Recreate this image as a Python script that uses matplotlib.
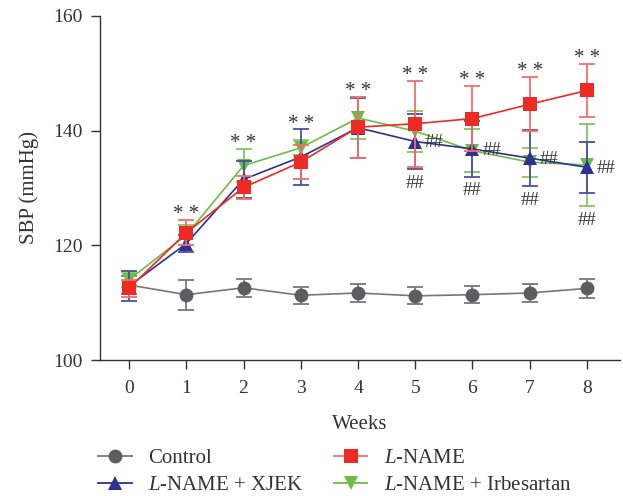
import numpy as np
import matplotlib
matplotlib.use("Agg")
import matplotlib.pyplot as plt
from matplotlib.lines import Line2D

# SBP readings (mmHg), mean and error, weeks 0-8
weeks = [0, 1, 2, 3, 4, 5, 6, 7, 8]

control_mean = [113.1, 111.4, 112.6, 111.3, 111.7, 111.2, 111.4, 111.7, 112.5]
control_err = [1.5, 2.6, 1.6, 1.5, 1.6, 1.5, 1.5, 1.6, 1.6]

lname_mean = [112.5, 122.2, 130.1, 134.5, 140.6, 141.2, 142.1, 144.6, 147.0]
lname_err = [1.5, 2.2, 2.0, 3.0, 5.3, 7.5, 5.7, 4.7, 4.6]

xjek_mean = [112.9, 120.3, 131.5, 135.4, 140.5, 138.1, 136.8, 135.2, 133.6]
xjek_err = [2.6, 1.5, 3.2, 4.8, 5.2, 4.8, 4.8, 4.9, 4.5]

irb_mean = [114.0, 121.8, 133.9, 137.0, 142.2, 139.9, 136.5, 134.5, 134.0]
irb_err = [1.3, 1.8, 2.9, 1.3, 3.6, 3.6, 3.8, 2.5, 7.2]

star_weeks = [1, 2, 3, 4, 5, 6, 7, 8]
hash_weeks = [5, 6, 7, 8]

plt.rcParams["font.family"] = ["Liberation Serif", "DejaVu Serif"]
plt.rcParams["mathtext.fontset"] = "custom"
plt.rcParams["mathtext.rm"] = "Liberation Serif"
plt.rcParams["mathtext.it"] = "Liberation Serif:italic"

TXT = "#333333"
FS = 14

fig = plt.figure(figsize=(6.23, 4.96), dpi=100)
ax = fig.add_axes([0.1605, 0.274, 0.835, 0.694])

# label, mean, err, marker, colour, errorbar colour, line colour, size, zorder
series = [
    ("Control", control_mean, control_err, "o", "#5d5d5f", "#777777", "#777777", 10, 1),
    (r"$\mathit{L}$-NAME + Irbesartan", irb_mean, irb_err, "v", "#6cbd45", "#84c865", "#6cbd45", 10, 2),
    (r"$\mathit{L}$-NAME + XJEK", xjek_mean, xjek_err, "^", "#2e3192", "#4a4fa0", "#2e3192", 10, 3),
    (r"$\mathit{L}$-NAME", lname_mean, lname_err, "s", "#ee2a24", "#f26d6d", "#ee2a24", 9.5, 4),
]
handles = {}
for label, mean, err, mk, col, ecol, lcol, ms, z in series:
    ax.errorbar(weeks, mean, yerr=err, fmt="none", ecolor=ecol,
                elinewidth=1.3, capsize=6, capthick=1.3, zorder=z)
    ax.plot(weeks, mean, color=lcol, linewidth=1.2, marker=mk,
            markersize=ms, markerfacecolor=col, markeredgewidth=0, zorder=z)
    handles[label] = Line2D([], [], color=lcol if label != r"$\mathit{L}$-NAME" else "#f26d6d",
                            linewidth=1.3, marker=mk, markersize=ms,
                            markerfacecolor=col, markeredgewidth=0)

groups = [(lname_mean, lname_err), (xjek_mean, xjek_err), (irb_mean, irb_err)]

# ** above the highest error bar
for w in star_weeks:
    top = max(m[w] + e[w] for m, e in groups)
    ax.annotate("* *", (w, top), xytext=(0, -3),
                textcoords="offset points", ha="center", va="bottom",
                fontsize=15, color=TXT)

# ## next to XJEK and under the lowest error bar
for w in hash_weeks:
    ax.annotate("##", (w, xjek_mean[w]), xytext=(7, -1),
                textcoords="offset points", ha="left", va="center",
                fontsize=13.5, color=TXT)
    low = min(m[w] - e[w] for m, e in groups)
    ax.annotate("##", (w, low), xytext=(0, -4),
                textcoords="offset points", ha="center", va="top",
                fontsize=13.5, color=TXT)

ax.set_xlim(-0.507, 8.58)
ax.set_ylim(100, 160)
ax.set_xticks(weeks)
ax.set_yticks([100, 120, 140, 160])
ax.tick_params(direction="out", length=6.5, width=1, colors=TXT,
               labelsize=FS, pad=6)
ax.tick_params(axis="x", pad=8)
for s in ["top", "right"]:
    ax.spines[s].set_visible(False)
for s in ["left", "bottom"]:
    ax.spines[s].set_color(TXT)
    ax.spines[s].set_linewidth(1)

ax.set_xlabel("Weeks", fontsize=15, color=TXT, labelpad=13)
ax.set_ylabel("SBP (mmHg)", fontsize=15, color=TXT, labelpad=10)

order = ["Control", r"$\mathit{L}$-NAME + XJEK", r"$\mathit{L}$-NAME",
         r"$\mathit{L}$-NAME + Irbesartan"]
leg = fig.legend([handles[k] for k in order], order, loc="upper left",
                 bbox_to_anchor=(0.158, 0.096), ncol=2, frameon=False,
                 fontsize=15, handlelength=1.6, handletextpad=0.8,
                 columnspacing=1.45, labelspacing=0.38, borderpad=0,
                 borderaxespad=0)
for t in leg.get_texts():
    t.set_color(TXT)

fig.savefig("out.png", dpi=100)
